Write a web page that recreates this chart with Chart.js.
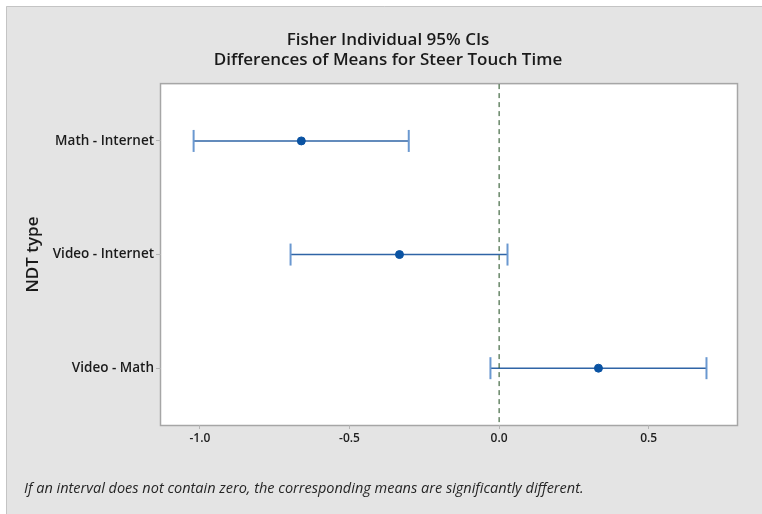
<!DOCTYPE html>
<html>
<head>
<meta charset="utf-8">
<script src="https://cdn.jsdelivr.net/npm/chart.js@4.4.1/dist/chart.umd.min.js"></script>
<style>
  html, body { margin: 0; padding: 0; background: #ffffff; overflow: hidden; }
  #wrap { width: 762px; height: 514px; }
  canvas { display: block; }
</style>
</head>
<body>
<div id="wrap"><canvas id="c" width="762" height="514"></canvas></div>
<script>
// ---- data ----
const categories = ['Math - Internet', 'Video - Internet', 'Video - Math'];
const centers = [-0.661, -0.333, 0.332];
const lowers  = [-1.021, -0.697, -0.029];
const uppers  = [-0.302,  0.028,  0.693];
const xTicks  = [-1.0, -0.5, 0.0, 0.5];
const titleLines = ['Fisher Individual 95% CIs', 'Differences of Means for Steer Touch Time'];
const yTitle = 'NDT type';
const footnote = 'If an interval does not contain zero, the corresponding means are significantly different.';

const FONT = '"Open Sans", "Segoe UI", "DejaVu Sans", sans-serif';
const LINE_COLOR = '#2f64a6';
const CAP_COLOR = '#6a98d0';
const DOT_COLOR = '#0a53a3';

const intervalSets = categories.map((c, i) => ({
  label: c,
  data: [{x: lowers[i], y: i + 1}, {x: uppers[i], y: i + 1}],
  showLine: true,
  borderColor: LINE_COLOR,
  borderWidth: 1.5,
  pointStyle: 'line',
  rotation: 90,
  pointRadius: 11,
  pointBorderColor: CAP_COLOR,
  pointBorderWidth: 2,
  pointBackgroundColor: CAP_COLOR,
  order: 3
}));

const dotSet = {
  label: 'Difference',
  data: centers.map((v, i) => ({x: v, y: i + 1})),
  showLine: false,
  pointStyle: 'circle',
  pointRadius: 4,
  pointBackgroundColor: DOT_COLOR,
  pointBorderColor: DOT_COLOR,
  pointBorderWidth: 1,
  order: 1
};

const zeroSet = {
  label: 'zero',
  data: [{x: 0, y: 0.5}, {x: 0, y: 3.5}],
  showLine: true,
  borderColor: '#1c4a1c',
  borderWidth: 1,
  borderDash: [5, 4],
  pointRadius: 0,
  order: 2
};

const framePlugin = {
  id: 'frame',
  beforeDraw(chart) {
    const ctx = chart.ctx;
    ctx.save();
    ctx.fillStyle = '#ffffff';
    ctx.fillRect(0, 0, chart.width, chart.height);
    ctx.fillStyle = '#e4e4e4';
    ctx.fillRect(6, 6, chart.width - 6, chart.height - 6);
    ctx.strokeStyle = '#c4c4c4';
    ctx.lineWidth = 1;
    ctx.beginPath();
    ctx.moveTo(6.5, chart.height);
    ctx.lineTo(6.5, 6.5);
    ctx.lineTo(chart.width, 6.5);
    ctx.stroke();
    const a = chart.chartArea;
    ctx.fillStyle = '#ffffff';
    ctx.fillRect(a.left, a.top, a.right - a.left, a.bottom - a.top);
    ctx.strokeStyle = '#a6a6a6';
    ctx.lineWidth = 1.5;
    ctx.strokeRect(a.left - 0.5, a.top - 0.5, a.right - a.left + 1, a.bottom - a.top + 1);
    ctx.restore();
  },
  afterDraw(chart) {
    const ctx = chart.ctx;
    ctx.save();
    ctx.font = 'italic 14.5px ' + FONT;
    ctx.fillStyle = '#262626';
    ctx.textBaseline = 'middle';
    ctx.textAlign = 'left';
    ctx.fillText(footnote, 24, 489);
    ctx.restore();
  }
};

new Chart(document.getElementById('c'), {
  type: 'scatter',
  data: { datasets: [...intervalSets, zeroSet, dotSet] },
  options: {
    responsive: false,
    animation: false,
    devicePixelRatio: 1,
    layout: { padding: { left: 39, right: 25, top: 6, bottom: 0 } },
    plugins: {
      legend: { display: false },
      tooltip: { enabled: false },
      title: {
        display: true,
        text: titleLines,
        color: '#1a1a1a',
        font: { family: FONT, size: 17, weight: '600', lineHeight: 1.18 },
        padding: { top: 24, bottom: 14 }
      }
    },
    scales: {
      x: {
        type: 'linear',
        min: -1.13,
        max: 0.795,
        afterBuildTicks(scale) { scale.ticks = xTicks.map(v => ({ value: v })); },
        afterFit(scale) { scale.height = 89; },
        ticks: {
          color: '#1e1e1e',
          font: { family: FONT, size: 12, weight: '600' },
          padding: 2,
          callback: v => v.toFixed(1)
        },
        grid: { display: true, drawOnChartArea: false, drawTicks: true, tickLength: 4, color: '#b4b4b4' },
        border: { display: false }
      },
      y: {
        type: 'linear',
        reverse: true,
        min: 0.5,
        max: 3.5,
        afterBuildTicks(scale) { scale.ticks = categories.map((c, i) => ({ value: i + 1 })); },
        afterFit(scale) { scale.width = 122; },
        ticks: {
          color: '#1a1a1a',
          font: { family: FONT, size: 13.5, weight: '600' },
          padding: 2,
          callback: v => categories[Math.round(v) - 1] || ''
        },
        grid: { display: true, drawOnChartArea: false, drawTicks: true, tickLength: 5, color: '#b4b4b4' },
        border: { display: false },
        title: {
          display: true,
          text: yTitle,
          color: '#1a1a1a',
          font: { family: FONT, size: 17, weight: '600', lineHeight: 1.2 },
          padding: { top: -16, bottom: 0 }
        }
      }
    }
  },
  plugins: [framePlugin]
});
</script>
</body>
</html>
